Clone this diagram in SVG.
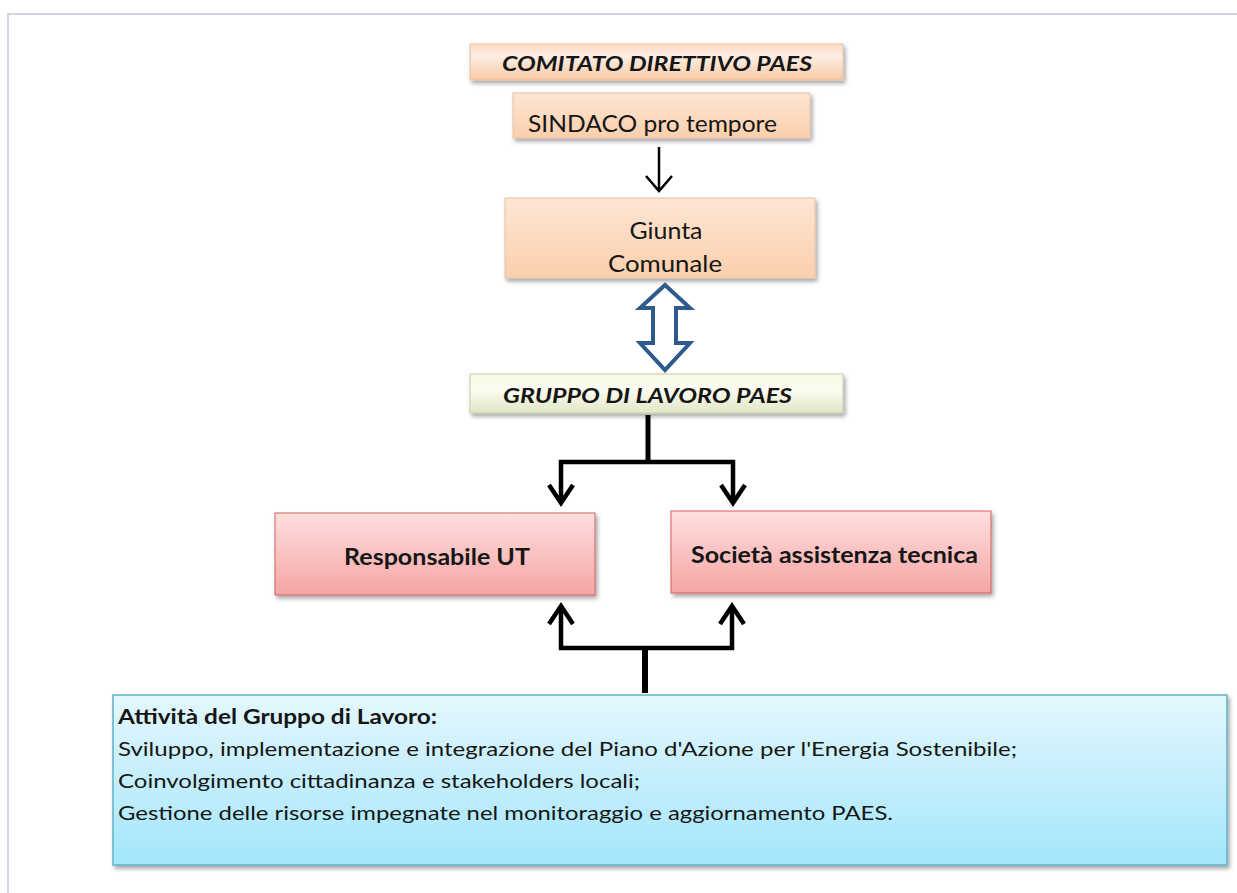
<svg xmlns="http://www.w3.org/2000/svg" width="1237" height="893" viewBox="0 0 1237 893">
<defs>
<linearGradient id="gPeach" x1="0" y1="0" x2="0" y2="1">
<stop offset="0" stop-color="#fbdcc4"/><stop offset="0.35" stop-color="#fdeee2"/><stop offset="1" stop-color="#f8c9a4"/>
</linearGradient>
<linearGradient id="gPeach2" x1="0" y1="0" x2="0" y2="1">
<stop offset="0" stop-color="#fde6d4"/><stop offset="1" stop-color="#fbcfac"/>
</linearGradient>
<linearGradient id="gGreen" x1="0" y1="0" x2="0" y2="1">
<stop offset="0" stop-color="#f6f8e6"/><stop offset="0.4" stop-color="#fbfcf0"/><stop offset="1" stop-color="#e2e6c6"/>
</linearGradient>
<linearGradient id="gPink" x1="0" y1="0" x2="0" y2="1">
<stop offset="0" stop-color="#fde0df"/><stop offset="1" stop-color="#f5a5a4"/>
</linearGradient>
<linearGradient id="gCyan" x1="0" y1="0" x2="0" y2="1">
<stop offset="0" stop-color="#e4f7fd"/><stop offset="1" stop-color="#a3e6fb"/>
</linearGradient>
<filter id="sh" x="-5%" y="-20%" width="115%" height="160%">
<feDropShadow dx="2" dy="3" stdDeviation="2" flood-color="#000" flood-opacity="0.35"/>
</filter>
<style>
.t{font-family:Lato,"Liberation Sans",sans-serif;fill:#161616}
.bi{font-weight:bold;font-style:italic}
.b{font-weight:bold}
.conn{fill:none;stroke:#000;stroke-linejoin:miter;stroke-linecap:butt}
</style>
</defs>
<rect x="0" y="0" width="1237" height="893" fill="#fff"/>
<path d="M1237 14 H8 V893" fill="none" stroke="#d2d5e8" stroke-width="2"/>

<g id="comitato">
<rect x="470" y="44" width="373" height="36" fill="url(#gPeach)" stroke="#e6c2a4" stroke-width="1" filter="url(#sh)"/>
<text class="t bi" x="502" y="71" font-size="21" textLength="310" lengthAdjust="spacingAndGlyphs">COMITATO DIRETTIVO PAES</text>
</g>

<g id="sindaco">
<rect x="513" y="93" width="297" height="45" fill="url(#gPeach2)" stroke="#e6c2a4" stroke-width="1" filter="url(#sh)"/>
<text class="t" x="528" y="132" font-size="24" textLength="249" lengthAdjust="spacingAndGlyphs">SINDACO pro tempore</text>
</g>

<g id="giunta">
<rect x="505" y="198" width="310" height="80" fill="url(#gPeach2)" stroke="#e6c2a4" stroke-width="1" filter="url(#sh)"/>
<text class="t" x="666" y="239" font-size="23" text-anchor="middle" textLength="73" lengthAdjust="spacingAndGlyphs">Giunta</text>
<text class="t" x="665" y="272" font-size="23" text-anchor="middle" textLength="114" lengthAdjust="spacingAndGlyphs">Comunale</text>
</g>

<g id="gruppo">
<rect x="470" y="374" width="373" height="39" fill="url(#gGreen)" stroke="#c8cba8" stroke-width="1" filter="url(#sh)"/>
<text class="t bi" x="503" y="403" font-size="21" textLength="289" lengthAdjust="spacingAndGlyphs">GRUPPO DI LAVORO PAES</text>
</g>

<g id="responsabile">
<rect x="275" y="513" width="320" height="82" fill="url(#gPink)" stroke="#d0605e" stroke-width="1" filter="url(#sh)"/>
<text class="t b" x="344" y="565" font-size="22" textLength="186" lengthAdjust="spacingAndGlyphs">Responsabile UT</text>
</g>

<g id="societa">
<rect x="671" y="511" width="320" height="82" fill="url(#gPink)" stroke="#d0605e" stroke-width="1" filter="url(#sh)"/>
<text class="t b" x="691" y="563" font-size="22" textLength="287" lengthAdjust="spacingAndGlyphs">Società assistenza tecnica</text>
</g>

<g id="attivita">
<rect x="113" y="695" width="1114" height="170" fill="url(#gCyan)" stroke="#5fb3c9" stroke-width="1.5" filter="url(#sh)"/>
<text class="t b" x="118" y="724" font-size="20" textLength="319" lengthAdjust="spacingAndGlyphs">Attività del Gruppo di Lavoro:</text>
<text class="t" x="118" y="756" font-size="20" textLength="899" lengthAdjust="spacingAndGlyphs">Sviluppo,  implementazione  e integrazione del Piano d'Azione per l'Energia Sostenibile;</text>
<text class="t" x="118" y="788" font-size="20" textLength="522" lengthAdjust="spacingAndGlyphs">Coinvolgimento cittadinanza e stakeholders locali;</text>
<text class="t" x="118" y="820" font-size="20" textLength="775" lengthAdjust="spacingAndGlyphs">Gestione delle risorse impegnate nel monitoraggio e aggiornamento PAES.</text>
</g>

<g id="connectors">
<path class="conn" d="M659 147 V191" stroke-width="2.5"/>
<path class="conn" d="M646 176 L659 191 L672 176" stroke-width="2.5"/>
<path d="M665 285 L640 308 H653 V343 H640 L665 370 L690 343 H676 V308 H690 Z" fill="#fff" stroke="#2e5a8c" stroke-width="4" stroke-linejoin="miter"/>
<path class="conn" d="M648 415 V462" stroke-width="5"/>
<path class="conn" d="M561 502 V462 H733 V502" stroke-width="4.5"/>
<path class="conn" d="M549 485 L561 503 L573 485" stroke-width="4.5"/>
<path class="conn" d="M721 485 L733 503 L745 485" stroke-width="4.5"/>
<path class="conn" d="M645 693 V648" stroke-width="6"/>
<path class="conn" d="M561 606 V648 H732 V606" stroke-width="4.5"/>
<path class="conn" d="M549 624 L561 606 L573 624" stroke-width="4.5"/>
<path class="conn" d="M720 624 L732 606 L744 624" stroke-width="4.5"/>
</g>
</svg>
